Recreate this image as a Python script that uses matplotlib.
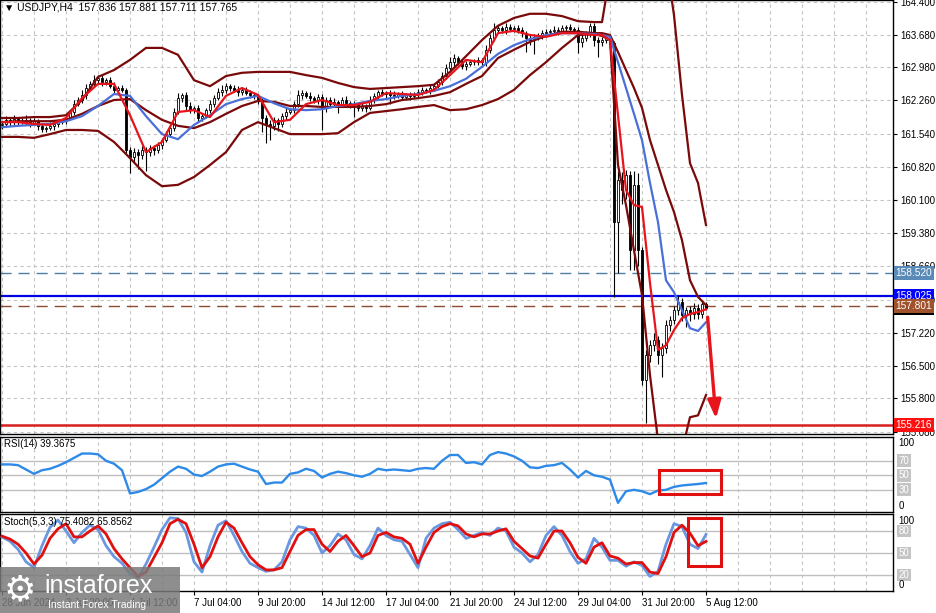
import numpy as np
import matplotlib
matplotlib.use("Agg")
import matplotlib.pyplot as plt
from matplotlib.patches import Rectangle

plt.rcParams['font.family'] = ['Liberation Sans', 'DejaVu Sans']

W, H = 937, 613

# USDJPY H4 closes, one per bar (open = previous close)
first_open = 161.72
close = [
    161.75, 161.84, 161.79, 161.86, 161.81, 161.79, 161.84, 161.77, 161.81, 161.71, 161.64, 161.66, 161.71, 161.75, 161.79, 161.81,
    161.88, 162.01, 162.18, 162.27, 162.38, 162.53, 162.62, 162.70, 162.75, 162.66, 162.70, 162.57, 162.49, 162.53, 162.49, 161.19,
    161.03, 161.14, 161.08, 161.19, 161.14, 161.23, 161.19, 161.29, 161.40, 161.53, 161.66, 162.01, 162.31, 162.38, 162.14, 162.05,
    162.10, 161.88, 161.92, 162.05, 162.18, 162.31, 162.44, 162.49, 162.57, 162.53, 162.49, 162.44, 162.49, 162.42, 162.38, 162.36,
    162.27, 161.88, 161.75, 161.71, 161.84, 161.75, 161.92, 162.01, 162.05, 162.18, 162.38, 162.42, 162.36, 162.31, 162.27, 162.34,
    162.10, 162.27, 162.18, 162.23, 162.18, 162.27, 162.20, 162.16, 162.18, 162.10, 162.14, 162.10, 162.27, 162.36, 162.44, 162.40,
    162.42, 162.38, 162.36, 162.40, 162.34, 162.38, 162.36, 162.40, 162.44, 162.49, 162.47, 162.53, 162.57, 162.66, 162.79, 162.96,
    163.09, 163.18, 163.09, 163.01, 163.05, 163.09, 163.09, 163.14, 163.09, 163.36, 163.62, 163.79, 163.83, 163.79, 163.85, 163.81,
    163.83, 163.79, 163.72, 163.62, 163.57, 163.64, 163.68, 163.72, 163.75, 163.77, 163.79, 163.77, 163.83, 163.85, 163.81, 163.79,
    163.53, 163.62, 163.70, 163.88, 163.57, 163.53, 163.57, 163.62, 163.50, 159.62, 160.53, 160.32, 160.64, 159.01, 160.43, 159.01,
    156.19, 156.74, 156.95, 157.06, 156.74, 156.89, 157.39, 157.50, 157.71, 157.89, 157.60, 157.71, 157.63, 157.76, 157.63, 157.836, 157.765,
]
# wick lengths above / below the body
up_wick = [
    0.06, 0.08, 0.05, 0.09, 0.04, 0.06, 0.10, 0.05, 0.07, 0.04, 0.06, 0.05, 0.08, 0.04, 0.06, 0.05,
    0.07, 0.05, 0.09, 0.06, 0.10, 0.08, 0.06, 0.12, 0.07, 0.09, 0.05, 0.06, 0.08, 0.04, 0.07, 0.03,
    0.05, 0.08, 0.06, 0.09, 0.05, 0.07, 0.06, 0.08, 0.05, 0.07, 0.06, 0.09, 0.12, 0.05, 0.06, 0.08,
    0.05, 0.07, 0.06, 0.05, 0.08, 0.06, 0.09, 0.11, 0.07, 0.05, 0.06, 0.08, 0.05, 0.07, 0.06, 0.05,
    0.04, 0.05, 0.06, 0.08, 0.07, 0.05, 0.06, 0.09, 0.05, 0.07, 0.10, 0.06, 0.05, 0.08, 0.04, 0.06,
    0.05, 0.07, 0.06, 0.08, 0.05, 0.06, 0.09, 0.05, 0.07, 0.04, 0.06, 0.05, 0.08, 0.06, 0.05, 0.07,
    0.05, 0.06, 0.08, 0.05, 0.07, 0.04, 0.06, 0.05, 0.07, 0.06, 0.05, 0.08, 0.06, 0.07, 0.09, 0.10,
    0.12, 0.08, 0.05, 0.07, 0.06, 0.05, 0.08, 0.06, 0.05, 0.10, 0.09, 0.15, 0.06, 0.05, 0.08, 0.06,
    0.05, 0.07, 0.06, 0.05, 0.08, 0.06, 0.05, 0.07, 0.06, 0.05, 0.08, 0.06, 0.07, 0.05, 0.06, 0.05,
    0.06, 0.08, 0.07, 0.06, 0.05, 0.07, 0.06, 0.05, 0.06, 0.04, 0.20, 0.18, 0.11, 0.10, 0.30, 0.25,
    0.08, 0.10, 0.12, 0.15, 0.10, 0.12, 0.10, 0.08, 0.10, 0.12, 0.08, 0.07, 0.09, 0.10, 0.08, 0.05, 0.045,
]
down_wick = [
    0.07, 0.05, 0.08, 0.06, 0.09, 0.05, 0.06, 0.08, 0.05, 0.10, 0.07, 0.06, 0.05, 0.08, 0.06, 0.05,
    0.06, 0.05, 0.07, 0.05, 0.06, 0.08, 0.05, 0.07, 0.06, 0.09, 0.07, 0.05, 0.06, 0.08, 0.05, 0.06,
    0.34, 0.12, 0.30, 0.10, 0.40, 0.08, 0.12, 0.06, 0.09, 0.05, 0.07, 0.06, 0.05, 0.08, 0.10, 0.06,
    0.07, 0.09, 0.06, 0.05, 0.07, 0.06, 0.05, 0.08, 0.06, 0.07, 0.05, 0.09, 0.06, 0.05, 0.07, 0.06,
    0.08, 0.30, 0.42, 0.30, 0.10, 0.15, 0.06, 0.08, 0.05, 0.07, 0.06, 0.08, 0.05, 0.07, 0.06, 0.09,
    0.48, 0.08, 0.06, 0.07, 0.20, 0.05, 0.08, 0.06, 0.25, 0.07, 0.06, 0.09, 0.05, 0.07, 0.06, 0.05,
    0.08, 0.20, 0.06, 0.05, 0.07, 0.06, 0.08, 0.05, 0.07, 0.06, 0.05, 0.08, 0.06, 0.05, 0.07, 0.06,
    0.08, 0.10, 0.07, 0.06, 0.08, 0.05, 0.07, 0.06, 0.10, 0.08, 0.06, 0.07, 0.05, 0.06, 0.08, 0.05,
    0.06, 0.07, 0.08, 0.30, 0.10, 0.30, 0.06, 0.08, 0.05, 0.07, 0.06, 0.08, 0.05, 0.06, 0.07, 0.06,
    0.25, 0.10, 0.08, 0.06, 0.12, 0.33, 0.08, 0.06, 0.07, 1.63, 1.10, 0.30, 0.20, 0.43, 0.43, 0.35,
    0.10, 0.93, 0.15, 0.12, 0.20, 0.48, 0.10, 0.12, 0.08, 0.10, 0.12, 0.25, 0.15, 0.10, 0.12, 0.08, 0.054,
]

# indicator lines, sampled at these bars
ind_bars = list(range(0, 149, 4)) + list(range(150, 177, 2))
bb_upper = [161.88, 161.88, 161.90, 161.90, 161.94, 162.27, 162.77, 162.92, 163.14, 163.40,
            163.40, 163.25, 162.70, 162.57, 162.79, 162.86, 162.88, 162.88, 162.88, 162.81,
            162.75, 162.64, 162.55, 162.51, 162.53, 162.55, 162.57, 162.60, 162.88, 163.22,
            163.57, 163.88, 164.05, 164.14, 164.14, 164.09, 163.98, 163.96,
            163.96, 165.00, 166.20, 166.80, 167.20, 167.30, 167.00, 166.30, 165.30, 164.11, 162.38, 160.90, 160.47, 159.56]
bb_mid = [161.79, 161.81, 161.81, 161.81, 161.84, 161.97, 162.14, 162.27, 162.29, 162.05,
          161.84, 161.71, 161.66, 161.79, 161.97, 162.14, 162.25, 162.23, 162.14, 162.14,
          162.12, 162.12, 162.12, 162.14, 162.18, 162.27, 162.31, 162.36, 162.44, 162.62,
          162.79, 163.18, 163.36, 163.53, 163.66, 163.75, 163.75, 163.72,
          163.72, 163.68, 163.31, 162.92, 162.53, 162.10, 161.40, 160.86, 160.32, 159.84, 159.23, 158.36, 158.00, 157.82]
bb_lower = [161.47, 161.47, 161.45, 161.53, 161.62, 161.62, 161.60, 161.36, 161.01, 160.64,
            160.40, 160.43, 160.60, 160.86, 161.14, 161.62, 161.79, 161.66, 161.53, 161.53,
            161.53, 161.55, 161.79, 161.99, 162.03, 162.07, 162.12, 162.16, 162.05, 162.07,
            162.16, 162.29, 162.49, 162.81, 163.09, 163.40, 163.68, 163.70,
            163.66, 163.57, 160.86, 159.99, 159.01, 158.04, 156.30, 154.89, 154.24, 154.02, 154.67, 155.39, 155.43, 155.87]
ma_blue = [161.68, 161.71, 161.73, 161.75, 161.81, 161.92, 162.14, 162.40, 162.36, 161.92,
           161.53, 161.42, 161.73, 161.94, 162.18, 162.29, 162.36, 162.20, 162.07, 162.05,
           162.07, 162.14, 162.18, 162.25, 162.29, 162.36, 162.40, 162.47, 162.57, 162.73,
           162.99, 163.27, 163.46, 163.59, 163.68, 163.72, 163.72, 163.70,
           163.68, 163.64, 163.09, 162.53, 161.97, 161.40, 160.47, 159.62, 158.36, 158.10, 157.71, 157.32, 157.26, 157.45]
ma_red = [161.79, 161.79, 161.75, 161.73, 161.88, 162.31, 162.62, 162.62, 161.94, 161.14,
          161.36, 162.01, 162.05, 161.90, 162.36, 162.53, 162.38, 161.79, 161.84, 162.18,
          162.27, 162.16, 162.16, 162.23, 162.42, 162.40, 162.38, 162.49, 162.81, 163.14,
          163.09, 163.72, 163.77, 163.68, 163.64, 163.72, 163.72, 163.68,
          163.68, 163.57, 161.94, 160.32, 159.99, 159.95, 158.30, 156.85, 156.95, 157.28, 157.54, 157.63, 157.67, 157.73]

# oscillators, every second bar
osc_bars = list(range(0, 177, 2))
rsi = [65, 65, 64, 58, 52, 57, 59, 63, 68, 74,
       80, 80, 79, 70, 66, 57, 25, 27, 31, 37,
       46, 55, 62, 59, 51, 49, 55, 62, 65, 66,
       62, 58, 55, 38, 40, 40, 52, 54, 59, 56,
       47, 52, 55, 53, 50, 48, 52, 59, 57, 58,
       57, 56, 59, 60, 59, 70, 78, 78, 67, 68,
       65, 78, 82, 80, 76, 70, 61, 60, 63, 64,
       67, 58, 47, 56, 50, 48, 44, 12, 28, 30,
       28, 24, 29, 30, 34, 36, 37, 38, 39.37]
stoch_main = [72, 66, 55, 38, 30, 60, 85, 95, 80, 64,
              78, 88, 82, 60, 45, 36, 22, 16, 35, 58,
              82, 98, 97, 78, 38, 24, 60, 88, 94, 74,
              52, 36, 30, 25, 27, 38, 68, 86, 84, 74,
              50, 60, 76, 68, 48, 42, 60, 84, 74, 68,
              66, 48, 30, 70, 84, 90, 92, 82, 70, 74,
              78, 74, 84, 80, 58, 50, 38, 48, 74, 86,
              74, 52, 36, 42, 70, 58, 40, 40, 32, 38,
              33, 18, 25, 62, 90, 86, 62, 56, 75.41]
stoch_signal = [73, 69, 62, 50, 35, 47, 70, 83, 90, 72,
                72, 80, 87, 76, 56, 42, 30, 18, 24, 44,
                64, 90, 96, 90, 62, 30, 45, 72, 92, 84,
                64, 45, 34, 27, 27, 30, 52, 74, 82, 82,
                62, 52, 66, 74, 60, 45, 50, 74, 78, 72,
                70, 62, 36, 58, 78, 86, 90, 87, 76, 72,
                76, 76, 80, 83, 66, 56, 46, 43, 62, 80,
                80, 64, 44, 36, 58, 64, 46, 43, 35, 37,
                37, 24, 22, 45, 78, 88, 77, 60, 65.86]

price_ticks = [164.400, 163.680, 162.980, 162.260, 161.540, 160.820, 160.100,
               159.380, 158.660, 157.940, 157.220, 156.500, 155.800, 155.080]
date_bars = list(range(0, 177, 16))
date_labels = ['28 Jun 2024', '2 Jul 20:00', '4 Jul 12:00', '7 Jul 04:00', '9 Jul 20:00',
               '14 Jul 12:00', '17 Jul 04:00', '21 Jul 20:00', '24 Jul 12:00',
               '29 Jul 04:00', '31 Jul 20:00', '5 Aug 12:00']


fig = plt.figure(figsize=(W / 100, H / 100), dpi=100)
fig.patch.set_facecolor('white')


def px_axes(x0, y0, x1, y1):
    return fig.add_axes([x0 / W, 1 - y1 / H, (x1 - x0) / W, (y1 - y0) / H])


ax = px_axes(0, 0, 893, 434)
ax_rsi = px_axes(0, 437, 893, 512)
ax_st = px_axes(0, 514, 893, 591)

grid_kw = dict(color='#c4c4c4', lw=0.8, ls=(0, (3, 3)), zorder=0)
for a in (ax, ax_rsi, ax_st):
    a.set_xlim(-0.5, 222.75)
    for gx in range(0, 223, 8):
        a.axvline(gx, **grid_kw)
    for s in a.spines.values():
        s.set_color('black')
        s.set_linewidth(1)
    a.tick_params(axis='x', bottom=False, labelbottom=False)
    a.yaxis.tick_right()
    a.tick_params(axis='y', direction='out', length=3, labelsize=7, pad=2, colors='black')

# ---- main price panel ----
ax.set_ylim(155.026, 164.439)
ax.set_yticks(price_ticks)
ax.set_yticklabels(['%.3f' % p for p in price_ticks])
for p in price_ticks:
    ax.axhline(p, **grid_kw)

c = np.array(close)
o = np.r_[first_open, c[:-1]]
hi = np.maximum(o, c) + np.array(up_wick)
lo = np.minimum(o, c) - np.array(down_wick)
idx = np.arange(len(c))
ax.vlines(idx, lo, hi, color='black', lw=0.8, zorder=2)
body = np.maximum(np.abs(c - o), 0.008)
cols = np.where(c >= o, 'white', 'black')
ax.bar(idx, body, bottom=np.minimum(o, c), width=0.72, color=cols,
       edgecolor='black', linewidth=0.6, zorder=3)

band_col = '#7a0a0a'
for band in (bb_upper, bb_mid, bb_lower):
    ax.plot(ind_bars, band, color=band_col, lw=1.6, zorder=4)
ax.plot(ind_bars, ma_blue, color='#4a6fd8', lw=1.6, zorder=5)
ax.plot(ind_bars, ma_red, color='#e8141c', lw=1.6, zorder=6)

ax.axhline(158.520, color='#4f7fa5', lw=1.0, dashes=(8, 5), zorder=1)
ax.axhline(158.025, color='#0000e6', lw=1.6, zorder=1)
ax.axhline(157.801, color='#8b4c30', lw=1.0, dashes=(8, 5), zorder=1)
ax.axhline(155.216, color='#d81e1e', lw=1.8, zorder=1)


def price_tag(a, y, txt, bg):
    a.text(1.003, y, txt, transform=a.get_yaxis_transform(), fontsize=7.3, color='white',
           va='center', ha='left', zorder=8, clip_on=False,
           bbox=dict(boxstyle='square,pad=0.2', fc=bg, ec='none'))


price_tag(ax, 158.520, '158.520', '#5a8ab8')
price_tag(ax, 158.025, '158.025', '#0000ff')
price_tag(ax, 157.765, '157.765', 'black')
price_tag(ax, 157.801, '157.801', '#a0522d')
price_tag(ax, 155.216, '155.216', '#ff1010')

ax.annotate('', xy=(178.5, 155.36), xytext=(176.4, 157.56),
            arrowprops=dict(arrowstyle='-|>,head_width=0.4,head_length=1.1',
                            color='#e8141c', lw=2.4, shrinkA=0, shrinkB=0), zorder=9)

# ---- RSI panel ----
ax_rsi.set_ylim(-0.6, 102.8)
ax_rsi.set_yticks([])
for lv in (70, 50, 30):
    ax_rsi.axhline(lv, color='#c0c0c0', lw=1.0, zorder=1)
ax_rsi.plot(osc_bars, rsi, color='#2d8ae8', lw=1.7, zorder=3)
ax_rsi.add_patch(Rectangle((164.25, 24.2), 15.5, 33.1, fill=False, ec='#e01010', lw=2.2,
                           zorder=5, clip_on=False))

# ---- Stochastic panel ----
ax_st.set_ylim(-1.8, 103.2)
ax_st.set_yticks([])
for lv in (80, 50, 20):
    ax_st.axhline(lv, color='#c0c0c0', lw=1.0, zorder=1)
ax_st.plot(osc_bars, stoch_main, color='#6a98e0', lw=2.0, zorder=3)
ax_st.plot(osc_bars, stoch_signal, color='#e01010', lw=2.0, zorder=4)
ax_st.add_patch(Rectangle((171.5, 32.3), 8.25, 65.4, fill=False, ec='#e01010', lw=2.2,
                          zorder=5, clip_on=False))

ax_st.set_xticks(date_bars)
ax_st.set_xticklabels(date_labels)
ax_st.tick_params(axis='x', bottom=True, labelbottom=True, direction='out', length=3,
                  labelsize=7, pad=2)
plt.setp(ax_st.get_xticklabels(), ha='left')


def side_label(a, v, txt, boxed):
    kw = dict(transform=a.get_yaxis_transform(), fontsize=7, va='center', ha='left', clip_on=False)
    if boxed:
        a.text(1.006, v, txt, color='white', bbox=dict(boxstyle='square,pad=0.15', fc='#c4c4c4', ec='none'), **kw)
    else:
        a.text(1.006, v, txt, color='black', **kw)


side_label(ax_rsi, 95, '100', False)
side_label(ax_rsi, 70, '70', True)
side_label(ax_rsi, 50, '50', True)
side_label(ax_rsi, 30, '30', True)
side_label(ax_rsi, 8, '0', False)
side_label(ax_st, 94, '100', False)
side_label(ax_st, 80, '80', True)
side_label(ax_st, 50, '50', True)
side_label(ax_st, 20, '20', True)
side_label(ax_st, 6, '0', False)

# panel captions
fig.text(4 / W, 1 - 8 / H, '\u25bc USDJPY,H4  157.836 157.881 157.711 157.765', fontsize=7.5, va='center')
fig.text(4 / W, 1 - 444 / H, 'RSI(14) 39.3675', fontsize=7, va='center')
fig.text(4 / W, 1 - 522 / H, 'Stoch(5,3,3) 75.4082 65.8562', fontsize=7, va='center')

# watermark
fig.add_artist(Rectangle((0, 0), 180 / W, 46 / H, transform=fig.transFigure,
                         fc='#7a7a7a', ec='none', alpha=0.85, zorder=20))
fig.text(4 / W, 1 - 590 / H, '\u2699', fontsize=26, color='white', va='center', zorder=21,
         family=['DejaVu Sans'])
fig.text(44 / W, 1 - 586 / H, 'instaforex', fontsize=18, color='white', va='center', zorder=21)
fig.text(48 / W, 1 - 605 / H, 'Instant Forex Trading', fontsize=7.5, color='white', va='center', zorder=21)

fig.savefig('out.png', dpi=100, facecolor='white')
